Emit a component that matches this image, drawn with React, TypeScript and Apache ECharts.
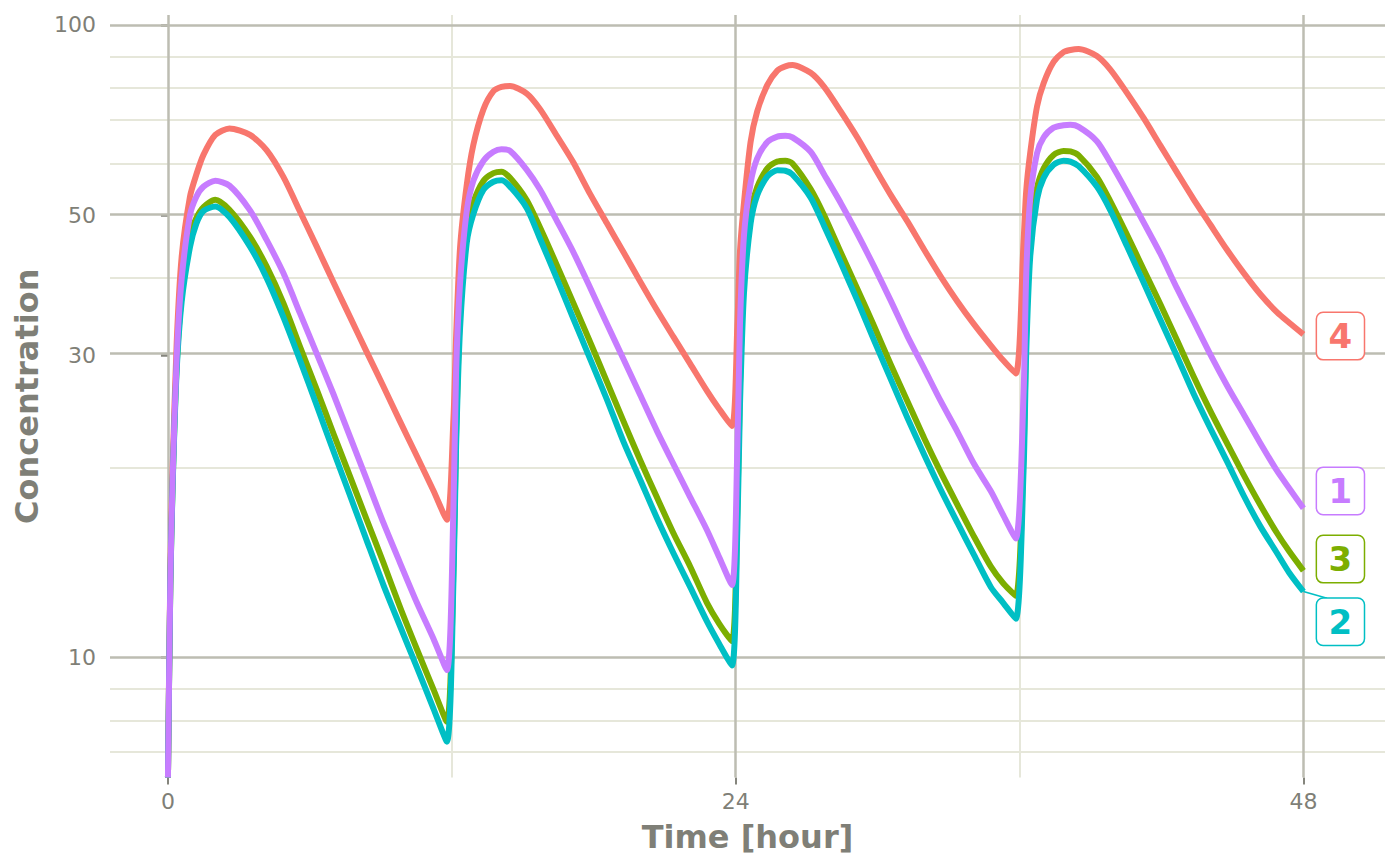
import React, { useEffect, useRef } from "react";
import * as echarts from "echarts";

// ---------- data ----------
const TIME = [
  0, 0.1, 0.2, 0.37, 0.58, 0.93, 1.2, 1.5, 2.0, 2.6, 3.47, 4.17, 4.88, 5.58, 6.29, 6.99, 7.7, 8.4, 9.11, 9.81, 10.52, 11.22, 11.79,
  12.07, 12.18, 12.35, 12.63, 12.91, 13.34, 13.76, 14.1, 14.46, 15.17, 15.73, 16.44, 17.14, 17.85, 18.55, 19.26, 19.96, 20.67, 21.37, 22.08, 22.78, 23.3, 23.84,
  24.07, 24.18, 24.35, 24.63, 24.91, 25.34, 25.76, 26.1, 26.4, 27.17, 27.74, 28.44, 29.15, 29.85, 30.56, 31.26, 31.97, 32.67, 33.38, 34.08, 34.79, 35.3, 35.84,
  36.17, 36.28, 36.45, 36.74, 37.02, 37.44, 37.86, 38.15, 38.5, 39.27, 39.84, 40.54, 41.25, 41.95, 42.66, 43.36, 44.07, 44.77, 45.48, 46.18, 46.89, 47.4, 48.0,
];

const CONC_4 = [
  0, 13.5, 20, 31.5, 43, 53.5, 58, 62.3, 67, 68.6, 67.0, 63.4, 57.5, 50.7, 44.6, 39.2, 34.5, 30.4, 26.8, 23.6, 20.8, 18.35, 16.5,
  23.9, 32.1, 44.5, 55.8, 64.6, 73.6, 78.6, 79.8, 80.1, 77.9, 73.6, 66.8, 60.6, 54.0, 48.6, 43.7, 39.3, 35.4, 32.1, 29.1, 26.4, 24.7, 23.2,
  33.4, 43.7, 52.3, 65.3, 73.0, 80.4, 84.7, 86.0, 86.4, 84.0, 79.8, 73.0, 66.3, 59.7, 53.8, 48.9, 44.1, 40.0, 36.5, 33.6, 31.1, 29.5, 28.1,
  45.4, 54.5, 62.7, 74.3, 80.9, 87.4, 90.6, 91.3, 91.6, 89.3, 85.0, 78.1, 71.2, 64.5, 58.4, 53.0, 48.3, 44.1, 40.5, 37.5, 35.1, 33.8, 32.4,
];

const CONC_3 = [
  0, 13, 19, 29, 37.5, 46.5, 49.5, 51.5, 52.9, 51, 46.2, 41.5, 36.3, 31.0, 26.5, 22.6, 19.3, 16.5, 14.1, 12.0, 10.3, 8.9, 7.9,
  14.0, 22.5, 35.4, 47.4, 52.4, 56.7, 58.3, 58.6, 57.3, 52.8, 47.8, 41.7, 36.3, 31.5, 27.3, 23.6, 20.5, 17.9, 15.7, 13.9, 12.2, 11.3, 10.6,
  17.2, 26.8, 41.2, 50.7, 55.4, 59.3, 60.8, 61.0, 60.4, 55.0, 50.0, 43.7, 38.2, 33.4, 29.0, 25.4, 22.2, 19.6, 17.4, 15.5, 13.9, 13.1, 12.5,
  21.1, 32.4, 48.1, 55.3, 59.3, 62.3, 63.2, 63.1, 62.2, 57.5, 52.6, 46.6, 41.0, 36.2, 31.7, 27.8, 24.5, 21.8, 19.4, 17.4, 15.7, 14.7, 13.7,
];

const CONC_2 = [
  0, 13, 18.8, 28.5, 36.5, 44.5, 48.5, 50.8, 51.6, 49.7, 44.6, 39.8, 34.5, 29.5, 25.0, 21.2, 18.0, 15.3, 13.0, 11.2, 9.64, 8.3, 7.35,
  13.2, 21.5, 33.2, 45.2, 50.2, 54.9, 56.5, 56.8, 55.5, 51.3, 45.9, 39.7, 34.3, 29.6, 25.6, 21.9, 19.1, 16.6, 14.6, 12.9, 11.4, 10.5, 9.7,
  15.9, 24.9, 37.6, 48.5, 53.8, 57.6, 58.9, 58.8, 58.0, 53.3, 48.1, 42.1, 36.6, 31.7, 27.5, 23.9, 20.9, 18.4, 16.3, 14.5, 12.9, 12.2, 11.5,
  19.7, 30.1, 42.9, 53.0, 57.3, 60.1, 61.0, 60.8, 59.8, 55.5, 50.9, 44.7, 39.1, 34.2, 29.9, 26.1, 23.0, 20.4, 18.0, 16.1, 14.6, 13.6, 12.7,
];

const CONC_1 = [
  0, 13.2, 19.3, 29.8, 39.7, 50, 53.5, 55.5, 56.7, 55.7, 50.9, 45.7, 40.5, 35.0, 30.2, 26.1, 22.3, 19.1, 16.3, 14.1, 12.2, 10.7, 9.54,
  17.3, 28.2, 39.1, 50.7, 56.7, 61.0, 63.0, 63.6, 63.2, 59.0, 54.9, 49.0, 43.7, 38.4, 33.7, 29.6, 26.0, 22.8, 20.2, 17.9, 15.9, 14.4, 13.0,
  21.4, 33.4, 46.4, 56.2, 61.5, 65.3, 66.6, 66.8, 66.4, 63.0, 58.0, 52.3, 46.7, 41.5, 36.6, 32.2, 28.6, 25.4, 22.7, 20.2, 18.3, 16.8, 15.4,
  26.1, 40.0, 53.0, 62.7, 66.4, 68.8, 69.4, 69.5, 69.0, 65.5, 60.6, 54.5, 48.7, 43.5, 38.3, 34.0, 30.1, 26.9, 24.2, 21.8, 19.7, 18.5, 17.2,
];

// drawing order follows the reference (first drawn at the bottom)
const SERIES_NAMES = ["4", "3", "2", "1"];
const SERIES_VALUES = [CONC_4, CONC_3, CONC_2, CONC_1];
const SERIES_COLORS = ["#F8766D", "#7CAE00", "#00BFC4", "#C77CFF"];

const X_MAJOR = [0, 24, 48];
const X_MINOR = [12, 36];
const Y_MAJOR = [10, 30, 50, 100];
const Y_MINOR = [7, 8, 9, 20, 40, 60, 70, 80, 90];
const X_RANGE = [-2.45, 51.45];
const Y_RANGE = [6.45, 103.7];

// ---------- styling ----------
const FONT = "DejaVu Sans";
const TEXT_COLOR = "#7f7f77";
const TICK_COLOR = "#85857d";
const MAJOR_GRID = "#bdbdb2";
const MINOR_GRID = "#e6e7da";
// label box offsets (pixels) relative to the line end: [dx, dy]
const LABEL_OFFSETS: Record<string, [number, number]> = {
  "4": [8.7, 1.7],
  "3": [8.7, -11.6],
  "2": [8.7, 30.3],
  "1": [8.7, -17.3],
};

const toLog = (v: number) => Math.log10(v > 0 ? v : Y_RANGE[0]);

export default function App() {
  const ref = useRef<HTMLDivElement>(null);

  useEffect(() => {
    const el = ref.current;
    if (!el) return;
    const chart = echarts.init(el, null, { renderer: "svg" });

    const gridLines: any[] = [
      ...Y_MINOR.map((v) => ({ yAxis: toLog(v), lineStyle: { color: MINOR_GRID, width: 2, type: "solid" } })),
      ...X_MINOR.map((v) => ({ xAxis: v, lineStyle: { color: MINOR_GRID, width: 2, type: "solid" } })),
      ...Y_MAJOR.map((v) => ({ yAxis: toLog(v), lineStyle: { color: MAJOR_GRID, width: 2.5, type: "solid" } })),
      ...X_MAJOR.map((v) => ({ xAxis: v, lineStyle: { color: MAJOR_GRID, width: 2.5, type: "solid" } })),
    ];

    const dataSeries = SERIES_NAMES.map((name, si) => ({
      type: "line",
      name,
      data: TIME.map((t, i) => [t, toLog(SERIES_VALUES[si][i])]),
      showSymbol: false,
      symbol: "none",
      smooth: 0.25,
      clip: true,
      z: 10,
      lineStyle: { color: SERIES_COLORS[si], width: 6, join: "round", cap: "butt" },
      itemStyle: { color: SERIES_COLORS[si] },
      emphasis: { disabled: true },
      endLabel: {
        show: true,
        formatter: (p: any) => p.seriesName,
        color: SERIES_COLORS[si],
        fontSize: 34,
        lineHeight: 34,
        fontWeight: "bold",
        fontFamily: FONT,
        backgroundColor: "#ffffff",
        borderColor: SERIES_COLORS[si],
        borderWidth: 1.5,
        borderRadius: 6,
        padding: [6, 11.5, 6, 11.5],
        distance: 5,
        offset: LABEL_OFFSETS[name],
      },
    }));

    const option: any = {
      animation: false,
      backgroundColor: "#ffffff",
      textStyle: { fontFamily: FONT },
      grid: { left: 110, right: 15, top: 15, bottom: 87.5, containLabel: false, outerBoundsMode: "none" },
      xAxis: {
        type: "value",
        min: X_RANGE[0],
        max: X_RANGE[1],
        axisLine: { show: false },
        splitLine: { show: false },
        minorSplitLine: { show: false },
        axisTick: { show: true, customValues: X_MAJOR, length: 7, lineStyle: { color: TICK_COLOR, width: 2 } },
        axisLabel: { customValues: X_MAJOR, margin: 13, fontSize: 22, color: TEXT_COLOR, fontFamily: FONT },
        name: "Time [hour]",
        nameLocation: "middle",
        nameGap: 43,
        nameTextStyle: { fontSize: 32, fontWeight: "bold", color: TEXT_COLOR, fontFamily: FONT },
      },
      yAxis: {
        type: "value",
        min: toLog(Y_RANGE[0]),
        max: toLog(Y_RANGE[1]),
        axisLine: { show: false },
        splitLine: { show: false },
        minorSplitLine: { show: false },
        axisTick: { show: true, customValues: Y_MAJOR.map(toLog), length: 7, lineStyle: { color: TICK_COLOR, width: 2.5 } },
        axisLabel: {
          customValues: Y_MAJOR.map(toLog),
          formatter: (v: number) => String(Math.round(Math.pow(10, v))),
          margin: 14,
          fontSize: 22,
          color: TEXT_COLOR,
          fontFamily: FONT,
        },
        name: "Concentration",
        nameLocation: "middle",
        nameGap: 62,
        nameTextStyle: { fontSize: 32, fontWeight: "bold", color: TEXT_COLOR, fontFamily: FONT },
      },
      series: [
        {
          type: "line",
          name: "grid",
          data: [],
          silent: true,
          z: 1,
          markLine: {
            silent: true,
            z: 1,
            symbol: ["none", "none"],
            label: { show: false },
            emphasis: { disabled: true },
            animation: false,
            data: gridLines,
          },
        },
        ...dataSeries,
      ],
    };

    chart.setOption(option);

    // ggrepel-style connector for the label of series "2"
    const idx = SERIES_NAMES.indexOf("2");
    const vals = SERIES_VALUES[idx];
    const p = chart.convertToPixel({ gridIndex: 0 }, [TIME[TIME.length - 1], toLog(vals[vals.length - 1])]) as number[];
    if (p && isFinite(p[0])) {
      chart.setOption({
        graphic: [
          {
            type: "line",
            z: 5,
            silent: true,
            shape: { x1: p[0], y1: p[1], x2: p[0] + 23.7, y2: p[1] + 6.7 },
            style: { stroke: SERIES_COLORS[idx], lineWidth: 1.5 },
          },
        ],
      });
    }

    return () => chart.dispose();
  }, []);

  return <div ref={ref} style={{ position: "fixed", left: 0, top: 0, width: 1400, height: 865 }} />;
}
